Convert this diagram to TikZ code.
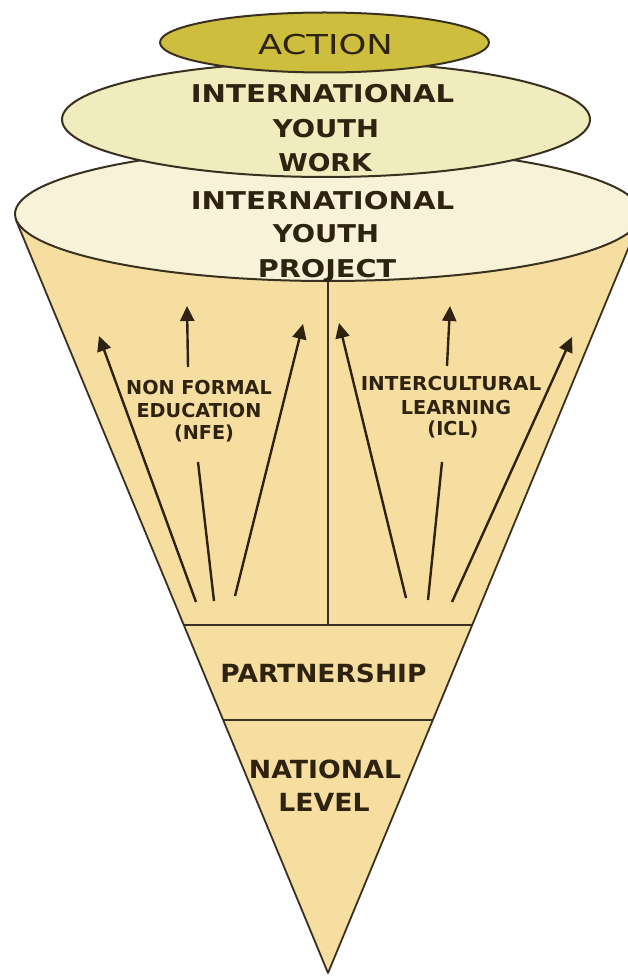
\documentclass[tikz,border=0pt]{standalone}
\usepackage{fontspec}
\usepackage{graphicx}
\usetikzlibrary{arrows.meta}
\newfontfamily\djv{DejaVu Sans}
\definecolor{actfill}{HTML}{CDBE3E}
\definecolor{iywfill}{HTML}{F0ECBD}
\definecolor{iypfill}{HTML}{F8F3D8}
\definecolor{conefill}{HTML}{F6DEA1}
\definecolor{ink}{HTML}{2E2210}
\definecolor{edgec}{HTML}{3A3020}
\newcommand{\hstretch}[2]{\scalebox{#1}[1]{#2}}
\tikzset{
  ellout/.style={draw=edgec, line width=2pt},
  edgeline/.style={draw=edgec, line width=1.8pt},
  arr/.style={draw=ink, line width=2.4pt, -{Triangle[length=15pt,width=14pt]}},
  arrline/.style={draw=ink, line width=2.4pt},
  acttxt/.style={anchor=base, inner sep=0pt, text=ink, font=\djv\fontsize{27.4}{32}\selectfont},
  toptxt/.style={anchor=base, inner sep=0pt, text=ink, font=\djv\bfseries\fontsize{24.5}{29}\selectfont},
  midtxt/.style={anchor=base, inner sep=0pt, text=ink, font=\djv\bfseries\fontsize{19.2}{23}\selectfont},
  lowtxt/.style={anchor=base, inner sep=0pt, text=ink, font=\djv\bfseries\fontsize{25}{30}\selectfont}
}
\begin{document}
\begin{tikzpicture}[x=1pt,y=-1pt,line join=round]
\useasboundingbox (0,0) rectangle (628,976);
\clip (0,0) rectangle (628,976);
\fill[white] (0,0) rectangle (628,976);

% cone
\coordinate (tip) at (328,973);
\coordinate (tl) at (16,220);
\coordinate (tr) at (640,220);
\filldraw[fill=conefill, edgeline] (tl) -- (tip) -- (tr);

% band lines and divider
\coordinate (b1l) at (184,625);
\coordinate (b1r) at (472,625);
\coordinate (b2l) at (223,720);
\coordinate (b2r) at (433,720);
\coordinate (dvt) at (328,270);
\coordinate (dvb) at (328,625);
\draw[edgeline] (b1l) -- (b1r);
\draw[edgeline] (b2l) -- (b2r);
\draw[edgeline] (dvt) -- (dvb);

% arrows, left group
\coordinate (a1s) at (196,602);
\coordinate (a1e) at (99,336);
\coordinate (a2s) at (214,601);
\coordinate (a2m) at (198,462);
\coordinate (a2n) at (188,367);
\coordinate (a2e) at (187,306);
\coordinate (a3s) at (235,596);
\coordinate (a3e) at (303,324);
\draw[arr] (a1s) -- (a1e);
\draw[arrline] (a2s) -- (a2m);
\draw[arr] (a2n) -- (a2e);
\draw[arr] (a3s) -- (a3e);

% arrows, right group
\coordinate (a4s) at (406,598);
\coordinate (a4e) at (339,323);
\coordinate (a5s) at (428,600);
\coordinate (a5m) at (442,462);
\coordinate (a5n) at (447,366);
\coordinate (a5e) at (450,306);
\coordinate (a6s) at (452,602);
\coordinate (a6e) at (572,337);
\draw[arr] (a4s) -- (a4e);
\draw[arrline] (a5s) -- (a5m);
\draw[arr] (a5n) -- (a5e);
\draw[arr] (a6s) -- (a6e);

% labels in the cone
\node[midtxt] (nfe1) at (199,394) {NON FORMAL};
\node[midtxt] (nfe2) at (199,417) {EDUCATION};
\node[midtxt] (nfe3) at (204,439) {(NFE)};
\node[midtxt] (icl1) at (451,390) {\hstretch{1.04}{INTERCULTURAL}};
\node[midtxt] (icl2) at (456,414) {LEARNING};
\node[midtxt] (icl3) at (453,435) {(ICL)};
\node[lowtxt] (part) at (323.5,682) {\hstretch{1.06}{PARTNERSHIP}};
\node[lowtxt] (nat1) at (325,778) {\hstretch{1.07}{NATIONAL}};
\node[lowtxt] (nat2) at (324,811) {\hstretch{1.07}{LEVEL}};

% ellipses
\filldraw[fill=iypfill, ellout] (328,214) ellipse [x radius=313, y radius=67];
\filldraw[fill=iywfill, ellout] (326,119.5) ellipse [x radius=264, y radius=57.5];
\filldraw[fill=actfill, ellout] (324.5,42.5) ellipse [x radius=164.5, y radius=30];

% ellipse texts
\node[acttxt] (act) at (325.5,55) {\hstretch{1.29}{ACTION}};
\node[toptxt] (iyw1) at (322.5,103) {\hstretch{1.19}{INTERNATIONAL}};
\node[toptxt] (iyw2) at (326,138) {\hstretch{1.12}{YOUTH}};
\node[toptxt] (iyw3) at (325,172) {\hstretch{1.09}{WORK}};
\node[toptxt] (iyp1) at (322.5,210) {\hstretch{1.19}{INTERNATIONAL}};
\node[toptxt] (iyp2) at (326,243) {\hstretch{1.12}{YOUTH}};
\node[toptxt] (iyp3) at (327,277) {\hstretch{1.17}{PROJECT}};
\end{tikzpicture}
\end{document}
